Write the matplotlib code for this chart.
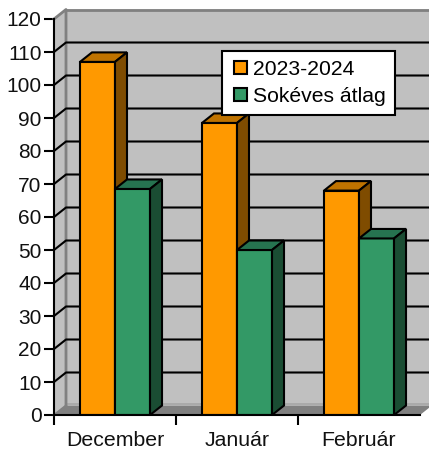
import matplotlib
matplotlib.use('Agg')
import matplotlib.pyplot as plt
from matplotlib.patches import Polygon, Patch, Rectangle
from matplotlib.legend_handler import HandlerPatch

plt.rcParams['font.family'] = ['Liberation Sans', 'DejaVu Sans']

months = ['December', 'Január', 'Február']
series_names = ['2023-2024', 'Sokéves átlag']
season = [107, 88.5, 68]
average = [68.5, 50, 53.5]
yticks = list(range(0, 130, 10))

# face, top, side
orange = ('#ff9900', '#bf7300', '#7f4c00')
green = ('#339966', '#267350', '#1a4d33')

fig = plt.figure(figsize=(4.29, 4.5), dpi=100)
ax = fig.add_axes([54 / 429, 35 / 450, 366 / 429, 396 / 450])
ax.set_xlim(0, 3)
ax.set_ylim(0, 120)
ax.patch.set_visible(False)

# 3d depth in data units
dx = 12 / 122
dy = 9.5 / 3.3
w = 0.287


def poly(pts, **kw):
    ax.add_patch(Polygon(pts, closed=True, clip_on=False, **kw))


# walls and floor
poly([(0, 0), (dx, dy), (3 + dx, dy), (3 + dx, 120 + dy), (dx, 120 + dy), (0, 120)],
     facecolor='#c0c0c0', edgecolor='none', zorder=1)
poly([(0, 0), (3, 0), (3 + dx, dy), (dx, dy)], facecolor='#808080', edgecolor='none', zorder=1.5)
ax.plot([dx, 3 + dx], [dy + 0.4, dy + 0.4], color='#a6a6a6', lw=1.2, clip_on=False, zorder=1.5)
ax.plot([0, dx, dx], [120, 120 + dy, dy], color='#808080', lw=2, clip_on=False, zorder=2)
ax.plot([dx, 3 + dx], [120 + dy, 120 + dy], color='#808080', lw=2, clip_on=False, zorder=2)
ax.plot([0, dx], [0, dy], color='#808080', lw=1.5, clip_on=False, zorder=2)

for v in yticks[1:-1]:
    ax.plot([0, dx, 3 + dx], [v, v + dy, v + dy], color='black', lw=1.5, clip_on=False, zorder=2)


def bar3d(x, h, cols, z):
    ax.bar(x, h, w, align='edge', color=cols[0], edgecolor='black', linewidth=1.5, zorder=z)
    poly([(x, h), (x + dx, h + dy), (x + w + dx, h + dy), (x + w, h)],
         facecolor=cols[1], edgecolor='black', linewidth=1.5, joinstyle='miter', zorder=z)
    poly([(x + w, 0), (x + w + dx, dy), (x + w + dx, h + dy), (x + w, h)],
         facecolor=cols[2], edgecolor='black', linewidth=1.5, joinstyle='miter', zorder=z)


for i in range(3):
    bar3d(i + 0.5 - w, season[i], orange, 3 + i * 0.1)
    bar3d(i + 0.5, average[i], green, 3.05 + i * 0.1)

ax.set_yticks(yticks)
ax.set_xticks([0, 1, 2, 3])
ax.set_xticklabels([])
ax.set_xticks([0.5, 1.5, 2.5], months, minor=True)
ax.tick_params(axis='x', which='minor', length=0, labelsize=15.3, pad=11.5, labelcolor='#111111')
ax.tick_params(axis='x', which='major', length=7, width=1.5)
ax.tick_params(axis='y', length=7, width=1.5, labelsize=15, pad=2, labelcolor='#111111')
ax.get_xticklines()[-2].set_visible(False)

for s in ['top', 'right']:
    ax.spines[s].set_visible(False)
for s in ['left', 'bottom']:
    ax.spines[s].set_linewidth(1.5)
    ax.spines[s].set_zorder(6)


# square key pushed to the right end of the handle area
def square_key(legend, orig_handle, xdescent, ydescent, width, height, fontsize):
    return Rectangle((width - height - xdescent, -ydescent), height, height)


handles = [Patch(facecolor=orange[0], edgecolor='black', linewidth=1.5),
           Patch(facecolor=green[0], edgecolor='black', linewidth=1.5)]
leg = ax.legend(handles, series_names, loc='upper left',
                bbox_to_anchor=((222 - 54) / 366, (415 - 51) / 396),
                fontsize=15.2, fancybox=False, framealpha=1, edgecolor='black',
                handlelength=0.76, handleheight=0.58, handletextpad=0.29,
                labelspacing=0.4, borderpad=0.42, borderaxespad=0,
                handler_map={Patch: HandlerPatch(patch_func=square_key)})
leg.get_frame().set_linewidth(1.5)
leg.set_zorder(10)

fig.savefig('out.png', dpi=100)
